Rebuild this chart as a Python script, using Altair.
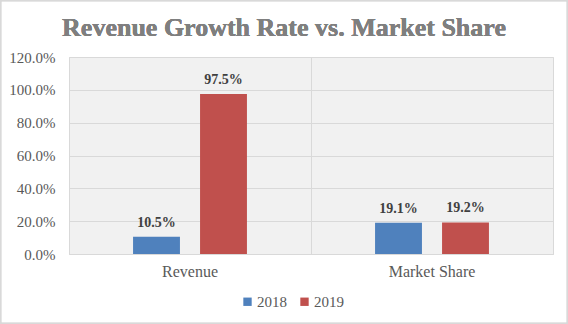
import altair as alt
import pandas as pd

categories = ["Revenue", "Market Share"]
years = ["2018", "2019"]
values_2018 = [0.105, 0.191]
values_2019 = [0.975, 0.192]
y_ticks = [0, 0.2, 0.4, 0.6, 0.8, 1.0, 1.2]
title_text = "Revenue Growth Rate vs. Market Share"

rows = []
for i, c in enumerate(categories):
    rows.append({"category": c, "year": "2018", "value": values_2018[i]})
    rows.append({"category": c, "year": "2019", "value": values_2019[i]})
df = pd.DataFrame(rows)

SERIF = "Liberation Serif"
GRID = "#d9d9d9"

x = alt.X("category:N", sort=categories, title=None,
          scale=alt.Scale(paddingInner=0, paddingOuter=0),
          axis=alt.Axis(labelAngle=0, labelFont=SERIF, labelFontSize=16, labelColor="#595959",
                        ticks=False, domainColor=GRID, grid=True, gridColor=GRID,
                        bandPosition=0, labelPadding=9))
xo = alt.XOffset("year:N", sort=years,
                 scale=alt.Scale(paddingInner=0.3, paddingOuter=0.956))
y = alt.Y("value:Q", title=None,
          scale=alt.Scale(domain=[0, 1.2], nice=False),
          axis=alt.Axis(format=".1%", values=y_ticks, tickCount=7,
                        labelOverlap=False,
                        labelFont=SERIF, labelFontSize=15, labelColor="#595959",
                        ticks=False, domain=False, gridColor=GRID, labelPadding=14))
color = alt.Color("year:N", sort=years,
                  scale=alt.Scale(domain=years, range=["#4F81BD", "#C0504D"]),
                  legend=alt.Legend(title=None, orient="none", direction="horizontal",
                                    legendX=171, legendY=237, symbolType="square",
                                    symbolSize=70, symbolStrokeWidth=0,
                                    labelFont=SERIF, labelFontSize=15, labelColor="#595959",
                                    columnPadding=10, labelOffset=2))

bars = alt.Chart(df).mark_bar().encode(x=x, xOffset=xo, y=y, color=color)
labels = alt.Chart(df).mark_text(dy=-14, font=SERIF, fontSize=14, fontWeight="bold",
                                 color="#404040").encode(
    x=x, xOffset=xo, y=y,
    text=alt.Text("value:Q", format=".1%"))
frame = alt.Chart(df).mark_rect(fill=None, stroke=GRID, strokeWidth=1.5, clip=False).encode(
    x=alt.value(-68.5), x2=alt.value(498.5), y=alt.value(-56.5), y2=alt.value(266.5))
title = alt.Chart(df).mark_text(text=title_text, font=SERIF, fontSize=26, fontWeight="bold",
                                color="#7f7f7f", align="center", baseline="alphabetic",
                                clip=False).encode(
    x=alt.value(215), y=alt.value(-21))

chart = alt.layer(bars, labels, frame, title).properties(
    width=484, height=197,
    autosize=alt.AutoSizeParams(type="none"),
    padding={"left": 69, "top": 57, "right": 15, "bottom": 70},
    background="white",
).configure_view(fill="#f1f1f1", stroke=GRID)

chart.save("out.html", embed_options={"renderer": "svg", "actions": False})
